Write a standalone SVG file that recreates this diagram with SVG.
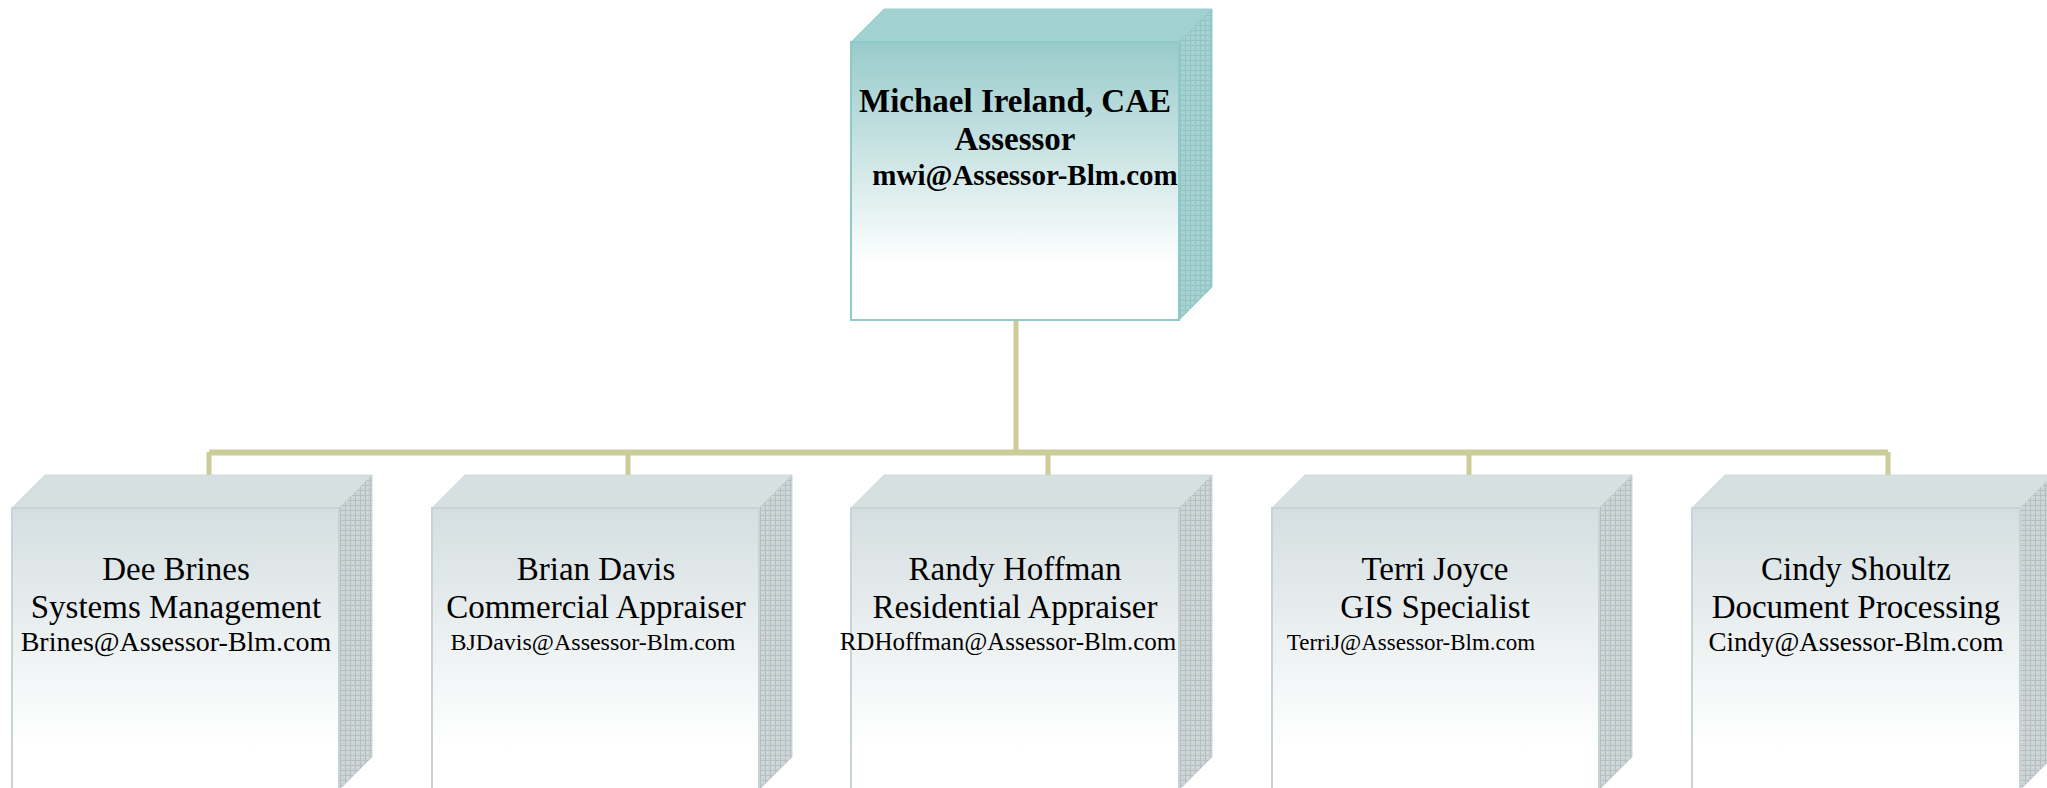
<svg xmlns="http://www.w3.org/2000/svg" width="2047" height="788" viewBox="0 0 2047 788">
<style>
text{font-family:"Liberation Serif","Times New Roman",serif;fill:#000;text-anchor:middle}
.b{font-weight:bold}
.n{font-size:33px}
.conn{fill:none;stroke:#CCCC99;stroke-linecap:butt}
.tf{fill:url(#tfront);stroke:#8FCACA;stroke-width:2}
.tt{fill:#A2D1D1;stroke:#9CCECE;stroke-width:1}
.ts{fill:url(#tside);stroke:#8FCACA;stroke-width:1}
.bf{fill:url(#bfront);stroke:#C8D3D5;stroke-width:2}
.bt{fill:#D6E0E1;stroke:#D0DADB;stroke-width:1}
.bs{fill:url(#bside);stroke:#C8D3D5;stroke-width:1}
</style>
<defs>
<linearGradient id="tfront" x1="0" y1="0" x2="0" y2="1">
<stop offset="0" stop-color="#99CBCB"/>
<stop offset="0.4" stop-color="#CBE4E4"/>
<stop offset="0.8" stop-color="#FFFFFF"/>
</linearGradient>
<linearGradient id="bfront" x1="0" y1="0" x2="0" y2="1">
<stop offset="0" stop-color="#D4DEE0"/>
<stop offset="0.5" stop-color="#EEF2F3"/>
<stop offset="0.85" stop-color="#FFFFFF"/>
</linearGradient>
<pattern id="tside" width="5" height="5" patternUnits="userSpaceOnUse">
<rect width="5" height="5" fill="#A6D1D1"/>
<path d="M0 0.5H5M0.5 0V5" stroke="#93C4C4" stroke-width="1"/>
<rect x="2" y="2" width="1" height="1" fill="#B4DADA"/>
<rect x="3" y="3" width="1" height="1" fill="#9ACACA"/>
</pattern>
<pattern id="bside" width="5" height="5" patternUnits="userSpaceOnUse">
<rect width="5" height="5" fill="#CDD5D7"/>
<path d="M0 0.5H5M0.5 0V5" stroke="#B5BFC1" stroke-width="1"/>
<rect x="2" y="2" width="1" height="1" fill="#D8DFE0"/>
<rect x="3" y="3" width="1" height="1" fill="#BFC8CA"/>
</pattern>
</defs>
<rect width="2047" height="788" fill="#FFFFFF"/>
<g id="connectors">
<path class="conn" stroke-width="5" d="M1016 320V453"/>
<path class="conn" stroke-width="6" d="M209 452.5H1888"/>
<path class="conn" stroke-width="5" d="M209 452V476M628 452V476M1048 452V476M1469 452V476M1888 452V476"/>
</g>
<g id="node-ireland">
<polygon class="tt" points="851,42 884,9 1212,9 1179,42"/>
<polygon class="ts" points="1179,42 1212,9 1212,287 1179,320"/>
<rect class="tf" x="851" y="42" width="328" height="278"/>
<text class="b n" x="1015" y="112">Michael Ireland, CAE</text>
<text class="b n" x="1015" y="150">Assessor</text>
<text class="b" x="1025" y="185" font-size="29">mwi@Assessor-Blm.com</text>
</g>
<g id="node-brines">
<polygon class="bt" points="12,508 45,475 372,475 339,508"/>
<polygon class="bs" points="339,508 372,475 372,757 339,790"/>
<rect class="bf" x="12" y="508" width="327" height="282"/>
<text class="n" x="176" y="580">Dee Brines</text>
<text class="n" x="176" y="618">Systems Management</text>
<text x="176" y="651" font-size="28">Brines@Assessor-Blm.com</text>
</g>
<g id="node-davis">
<polygon class="bt" points="432,508 465,475 792,475 759,508"/>
<polygon class="bs" points="759,508 792,475 792,757 759,790"/>
<rect class="bf" x="432" y="508" width="327" height="282"/>
<text class="n" x="596" y="580">Brian Davis</text>
<text class="n" x="596" y="618">Commercial Appraiser</text>
<text x="593" y="650" font-size="24">BJDavis@Assessor-Blm.com</text>
</g>
<g id="node-hoffman">
<polygon class="bt" points="851,508 884,475 1212,475 1179,508"/>
<polygon class="bs" points="1179,508 1212,475 1212,757 1179,790"/>
<rect class="bf" x="851" y="508" width="328" height="282"/>
<text class="n" x="1015" y="580">Randy Hoffman</text>
<text class="n" x="1015" y="618">Residential Appraiser</text>
<text x="1008" y="650" font-size="25">RDHoffman@Assessor-Blm.com</text>
</g>
<g id="node-joyce">
<polygon class="bt" points="1272,508 1305,475 1632,475 1599,508"/>
<polygon class="bs" points="1599,508 1632,475 1632,757 1599,790"/>
<rect class="bf" x="1272" y="508" width="327" height="282"/>
<text class="n" x="1435" y="580">Terri Joyce</text>
<text class="n" x="1435" y="618">GIS Specialist</text>
<text x="1411" y="650" font-size="23">TerriJ@Assessor-Blm.com</text>
</g>
<g id="node-shoultz">
<polygon class="bt" points="1692,508 1725,475 2053,475 2020,508"/>
<polygon class="bs" points="2020,508 2053,475 2053,757 2020,790"/>
<rect class="bf" x="1692" y="508" width="328" height="282"/>
<text class="n" x="1856" y="580">Cindy Shoultz</text>
<text class="n" x="1856" y="618">Document Processing</text>
<text x="1856" y="651" font-size="27">Cindy@Assessor-Blm.com</text>
</g>
</svg>
